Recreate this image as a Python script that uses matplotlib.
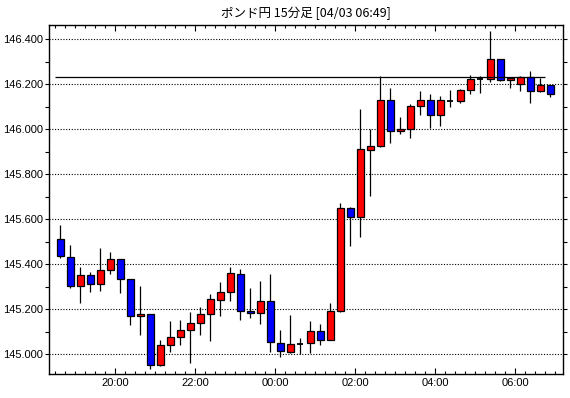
import numpy as np
import matplotlib
matplotlib.use("Agg")
import matplotlib.pyplot as plt

# GBP/JPY 15 minute candles, 18:30 .. 06:45
opens = [145.511, 145.431, 145.301, 145.351, 145.310, 145.375, 145.422, 145.335, 145.169, 145.178,
         144.951, 145.040, 145.076, 145.107, 145.138, 145.179, 145.240, 145.274, 145.356, 145.191,
         145.182, 145.236, 145.049, 145.009, 145.045, 145.049, 145.103, 145.063, 145.190, 145.649,
         145.609, 145.907, 145.925, 146.129, 145.991, 146.000, 146.102, 146.129, 146.064, 146.127,
         146.127, 146.176, 146.222, 146.225, 146.314, 146.219, 146.203, 146.234, 146.170, 146.196]
highs = [145.575, 145.484, 145.385, 145.366, 145.473, 145.452, 145.422, 145.335, 145.304, 145.178,
         145.064, 145.148, 145.153, 145.185, 145.210, 145.268, 145.322, 145.388, 145.379, 145.295,
         145.326, 145.356, 145.108, 145.175, 145.071, 145.148, 145.134, 145.227, 145.671, 145.653,
         146.089, 146.000, 146.235, 146.184, 146.053, 146.111, 146.169, 146.156, 146.147, 146.173,
         146.181, 146.240, 146.236, 146.436, 146.314, 146.228, 146.239, 146.258, 146.230, 146.196]
lows = [145.428, 145.292, 145.225, 145.274, 145.279, 145.354, 145.270, 145.129, 145.085, 144.932,
        144.945, 145.008, 145.042, 144.959, 145.083, 145.059, 145.167, 145.237, 145.150, 145.160,
        145.132, 145.008, 144.985, 145.006, 145.000, 145.005, 145.042, 145.063, 145.186, 145.479,
        145.519, 145.701, 145.920, 145.941, 145.978, 145.959, 146.065, 146.006, 146.016, 146.099,
        146.119, 146.157, 146.162, 146.209, 146.215, 146.184, 146.169, 146.117, 146.166, 146.144]
closes = [145.434, 145.301, 145.351, 145.310, 145.375, 145.422, 145.333, 145.169, 145.178, 144.951,
          145.040, 145.076, 145.108, 145.139, 145.179, 145.244, 145.276, 145.360, 145.191, 145.182,
          145.236, 145.053, 145.013, 145.045, 145.045, 145.103, 145.063, 145.191, 145.649, 145.609,
          145.911, 145.925, 146.129, 145.991, 146.000, 146.102, 146.129, 146.064, 146.129, 146.127,
          146.176, 146.222, 146.222, 146.314, 146.219, 146.228, 146.234, 146.170, 146.196, 146.157]

ref_price = 146.231
time_labels = ["20:00", "22:00", "00:00", "02:00", "04:00", "06:00"]
time_label_candle = [6, 14, 22, 30, 38, 46]   # index of candle starting at that time
price_ticks = [145.0, 145.2, 145.4, 145.6, 145.8, 146.0, 146.2, 146.4]
title = "ポンド円 15分足 [04/03 06:49]"

plt.rcParams['font.family'] = ['Liberation Sans', 'Noto Sans CJK JP', 'DejaVu Sans']

fig = plt.figure(figsize=(5.7, 3.98), dpi=100)
ax = fig.add_axes([49 / 570, (398 - 374) / 398, 514 / 570, 349 / 398])

x = np.arange(len(opens))
o = np.array(opens)
c = np.array(closes)
h = np.array(highs)
l = np.array(lows)

# wicks
ax.vlines(x, l, h, color='black', lw=0.9, zorder=2)

# bodies
up = c - o > 0.001
down = o - c > 0.001
doji = ~(up | down)
ax.bar(x[up], (c - o)[up], bottom=o[up], width=0.65, color='#ff0000',
       edgecolor='black', linewidth=0.9, zorder=3)
ax.bar(x[down], (o - c)[down], bottom=c[down], width=0.65, color='#0000ff',
       edgecolor='black', linewidth=0.9, zorder=3)
ax.hlines(c[doji], x[doji] - 0.32, x[doji] + 0.32, color='black', lw=1.3, zorder=3)

# reference line
ax.hlines(ref_price, -0.5, 48.5, color='black', lw=0.9, zorder=4)

ax.set_xlim(-1.13, 50.27)
ax.set_ylim(144.911, 146.464)

# grid
for p in price_ticks:
    ax.axhline(p, color='black', lw=0.8, linestyle=(0, (1, 1.5)), zorder=1)

ax.set_yticks(price_ticks)
ax.set_yticklabels([f"{p:.3f}" for p in price_ticks], fontsize=8)
ax.set_yticks(np.arange(145.1, 146.4, 0.2), minor=True)
ax.set_xticks([k - 0.5 for k in time_label_candle])
ax.set_xticklabels(time_labels, fontsize=8)
ax.set_xticks(np.arange(-0.5, 50, 1.0), minor=True)

ax.tick_params(axis='x', which='major', direction='in', length=4, top=True, width=0.8, pad=3)
ax.tick_params(axis='x', which='minor', direction='in', length=2.2, top=True, width=0.8)
ax.tick_params(axis='y', which='both', direction='out', length=3, width=0.8, pad=1)
ax.tick_params(axis='y', which='both', right=True)

for s in ax.spines.values():
    s.set_linewidth(1.0)

fig.text(0.5 + 0.5 * 49 / 570 - 0.5 * 7 / 570, 1 - 13 / 398, title, ha='center', va='center',
         fontsize=9, family=['Noto Sans CJK JP', 'DejaVu Sans'])

fig.savefig("out.png", dpi=100)
